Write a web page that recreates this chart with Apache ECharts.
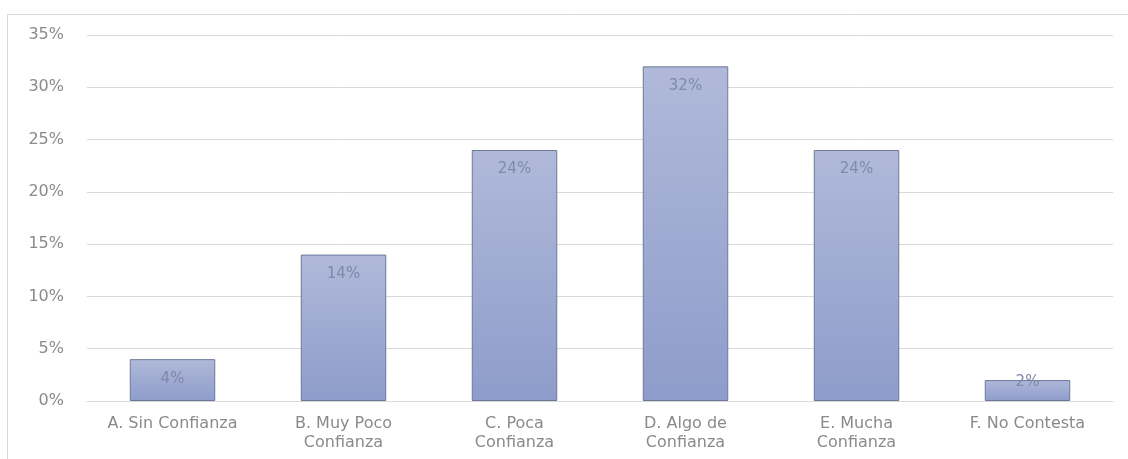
<!DOCTYPE html>
<html><head><meta charset="utf-8">
<script src="https://cdn.jsdelivr.net/npm/echarts@6/dist/echarts.min.js"></script>
<style>html,body{margin:0;padding:0;background:#fff}#c{width:1128px;height:459px}</style>
</head><body><div id="c"></div>
<script>
const categories = ["A. Sin Confianza", "B. Muy Poco\nConfianza", "C. Poca\nConfianza", "D. Algo de\nConfianza", "E. Mucha\nConfianza", "F. No Contesta"];
const values = [4, 14, 24, 32, 24, 2];
const yTicks = [0, 5, 10, 15, 20, 25, 30, 35];
const FONT = "'DejaVu Sans', sans-serif";

const chart = echarts.init(document.getElementById('c'), null, {renderer: 'canvas'});
chart.setOption({
  animation: false,
  backgroundColor: '#fff',
  graphic: [{
    type: 'rect', shape: {x: 7.5, y: 14.5, width: 1130, height: 460},
    style: {fill: 'none', stroke: '#d9d9d9', lineWidth: 1}, silent: true
  }],
  grid: {left: 87, right: 15, top: 35, bottom: 58, containLabel: false},
  xAxis: {
    type: 'category', data: categories,
    axisLine: {show: true, lineStyle: {color: '#d9d9d9'}},
    axisTick: {show: false},
    axisLabel: {color: '#8a8a8a', fontFamily: FONT, fontSize: 16, margin: 13, lineHeight: 19, interval: 0}
  },
  yAxis: {
    type: 'value', min: yTicks[0], max: yTicks[yTicks.length - 1], interval: 5,
    axisLine: {show: false}, axisTick: {show: false},
    splitLine: {lineStyle: {color: '#d9d9d9'}},
    axisLabel: {color: '#8a8a8a', fontFamily: FONT, fontSize: 16, margin: 23, formatter: v => v + '%'}
  },
  series: [{
    type: 'bar', barWidth: '50%',
    data: values.map(v => v < 3 ? {value: v, label: {distance: -5}} : v),
    itemStyle: {
      color: new echarts.graphic.LinearGradient(0, 0, 0, 1, [
        {offset: 0, color: '#b0b9d9'}, {offset: 1, color: '#8e9ccb'}
      ]),
      borderColor: '#6d7897', borderWidth: 1
    },
    label: {
      show: true, position: 'insideTop', distance: 12,
      color: '#7f89a8', fontFamily: FONT, fontSize: 15,
      formatter: p => p.value + '%'
    }
  }]
});
</script></body></html>
